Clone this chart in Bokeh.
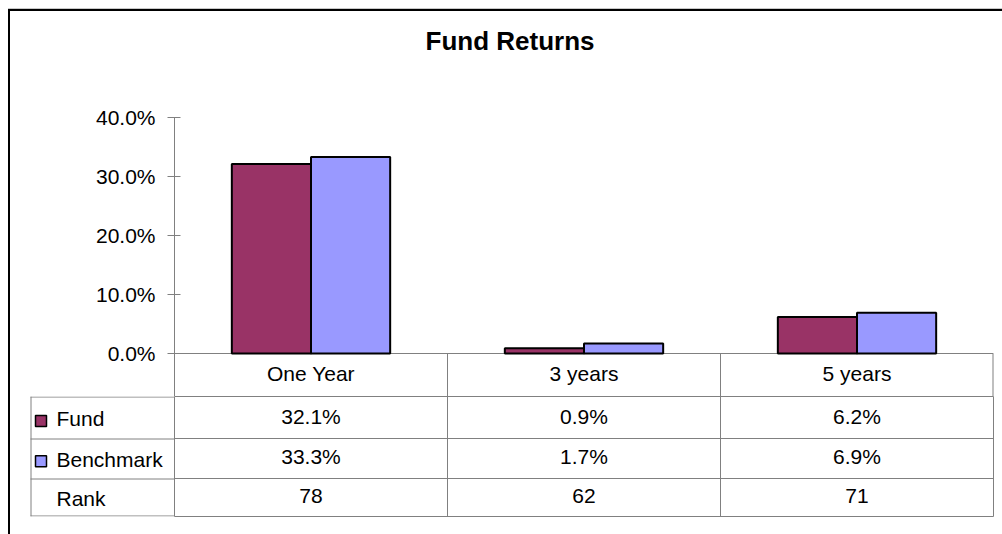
from bokeh.plotting import figure
from bokeh.models import (FactorRange, Range1d, FixedTicker, NumeralTickFormatter,
                          Span, ColumnDataSource, Div, Spacer, Title)
from bokeh.layouts import column, row
from bokeh.transform import dodge
from bokeh.core.properties import value
from bokeh.embed import file_html
from bokeh.resources import INLINE

# ---- data ----
chart_title = "Fund Returns"
periods = ["One Year", "3 years", "5 years"]
fund = [0.321, 0.009, 0.062]
benchmark = [0.333, 0.017, 0.069]
rank = [78, 62, 71]
series_names = ["Fund", "Benchmark"]
series_colors = ["#993366", "#9999FF"]
row_names = ["Fund", "Benchmark", "Rank"]
y_ticks = [0.0, 0.1, 0.2, 0.3, 0.4]

FONT = "Liberation Sans"
GRID = "#808080"
FS = "21px"

src = ColumnDataSource(dict(
    period=periods,
    fund=fund,
    benchmark=benchmark,
    fund_txt=[f"{v * 100:.1f}%" for v in fund],
    bench_txt=[f"{v * 100:.1f}%" for v in benchmark],
    rank_txt=[str(r) for r in rank],
))

x_range = FactorRange(*periods, range_padding=0, factor_padding=0)

# layout geometry (pixels)
Y_MAX = y_ticks[-1]
AXIS_PX = 236          # pixels from 0% to 40%
HEADER_PX = 43         # header row of the data table (category names)
px = Y_MAX / AXIS_PX   # data units per pixel
y_start = -HEADER_PX * px

# ---- top: bars + header row of the table ----
top = figure(x_range=x_range, y_range=Range1d(y_start, Y_MAX), width=992, height=385,
             min_border_left=164, min_border_right=9, min_border_top=106,
             min_border_bottom=0, x_axis_location=None, title=None,
             output_backend="svg", toolbar_location=None)
# spacing panel between the title and the plot area, then the title itself
top.add_layout(Title(text=" ", text_font=FONT, text_font_size="26px", standoff=30), "above")
top.add_layout(Title(text=chart_title, text_font=FONT, text_font_size="26px",
                     text_font_style="bold", text_color="black", align="left",
                     offset=251, standoff=0), "above")
top.outline_line_color = None
top.grid.grid_line_color = None
top.background_fill_color = "white"
top.border_fill_color = "white"

ax = top.yaxis[0]
ax.ticker = FixedTicker(ticks=y_ticks)
ax.formatter = NumeralTickFormatter(format="0.0%")
ax.major_label_text_font = FONT
ax.major_label_text_font_size = FS
ax.major_label_text_color = "black"
ax.axis_line_color = GRID
ax.major_tick_line_color = GRID
ax.minor_tick_line_color = None
ax.major_tick_in = 6
ax.major_tick_out = 7
ax.major_label_standoff = 12

n = len(periods)
# table top line (category axis) and header-row cell borders
top.segment(x0=[0], y0=[0], x1=[n], y1=[0], line_color=GRID, line_width=1)
top.segment(x0=list(range(1, n + 1)), y0=[y_start] * n, x1=list(range(1, n + 1)),
            y1=[0] * n, line_color=GRID, line_width=[1] * (n - 1) + [2])

top.vbar(x=dodge("period", -0.145, range=x_range), top="fund", width=0.29, source=src,
         fill_color=series_colors[0], line_color="black", line_width=2)
top.vbar(x=dodge("period", 0.145, range=x_range), top="benchmark", width=0.29, source=src,
         fill_color=series_colors[1], line_color="black", line_width=2)

txt_kw = dict(text_font=value(FONT), text_font_size=FS, text_color="black",
              text_align="center", text_baseline="middle", source=src)
top.text(x="period", y=-20 * px, text="period", **txt_kw)

# ---- data table rows ----
row_edges = [0, 42, 82, 120]
tbl = figure(x_range=x_range, y_range=Range1d(120, 0), width=828, height=138,
             min_border_left=0, min_border_right=9, min_border_top=0, min_border_bottom=18,
             x_axis_location=None, y_axis_location=None,
             output_backend="svg", toolbar_location=None)
tbl.outline_line_color = GRID
tbl.grid.grid_line_color = None
for i in range(1, n):
    tbl.add_layout(Span(location=i, dimension="height", line_color=GRID, line_width=1))
for yv in row_edges[1:-1]:
    tbl.add_layout(Span(location=yv, dimension="width", line_color=GRID, line_width=1))

tbl.text(x="period", y=20.3, text="fund_txt", **txt_kw)
tbl.text(x="period", y=60.2, text="bench_txt", **txt_kw)
tbl.text(x="period", y=99.5, text="rank_txt", **txt_kw)

# ---- legend column of the table ----
leg = figure(x_range=Range1d(0, 164), y_range=Range1d(120, 0), width=164, height=138,
             min_border_left=0, min_border_right=0, min_border_top=0, min_border_bottom=18,
             x_axis_location=None, y_axis_location=None,
             output_backend="svg", toolbar_location=None)
leg.outline_line_color = None
leg.grid.grid_line_color = None
leg.segment(x0=[20.5], y0=[0], x1=[20.5], y1=[120], line_color=GRID, line_width=1)
leg.segment(x0=[20] * 4, y0=[0.5, 42.5, 82.5, 119.5], x1=[164] * 4,
            y1=[0.5, 42.5, 82.5, 119.5], line_color=GRID, line_width=1)
leg.scatter(x=[30.5, 30.5], y=[24.5, 64.8], marker="square", size=11,
            fill_color=series_colors, line_color="black", line_width=1.5)
leg.text(x=[46] * 3, y=[22.3, 63, 101.8], text=row_names,
         text_font=value(FONT), text_font_size=FS, text_color="black",
         text_align="left", text_baseline="middle")

# ---- outer chart border ----
line_top_gray = Div(text="", width=994, height=1, margin=0,
                    styles={"background-color": "#c8c8c8", "overflow": "hidden"})
line_top = Div(text="", width=994, height=2, margin=0,
               styles={"background-color": "#000000", "overflow": "hidden"})
line_left = Div(text="", width=2, height=523, margin=0,
                styles={"background-color": "#000000", "overflow": "hidden"})

chart = column(line_top_gray, line_top,
               row(line_left, column(top, row(leg, tbl))))
layout = column(Spacer(width=1002, height=8), row(Spacer(width=8, height=526), chart))

open("out.html", "w").write(file_html(layout, INLINE))
